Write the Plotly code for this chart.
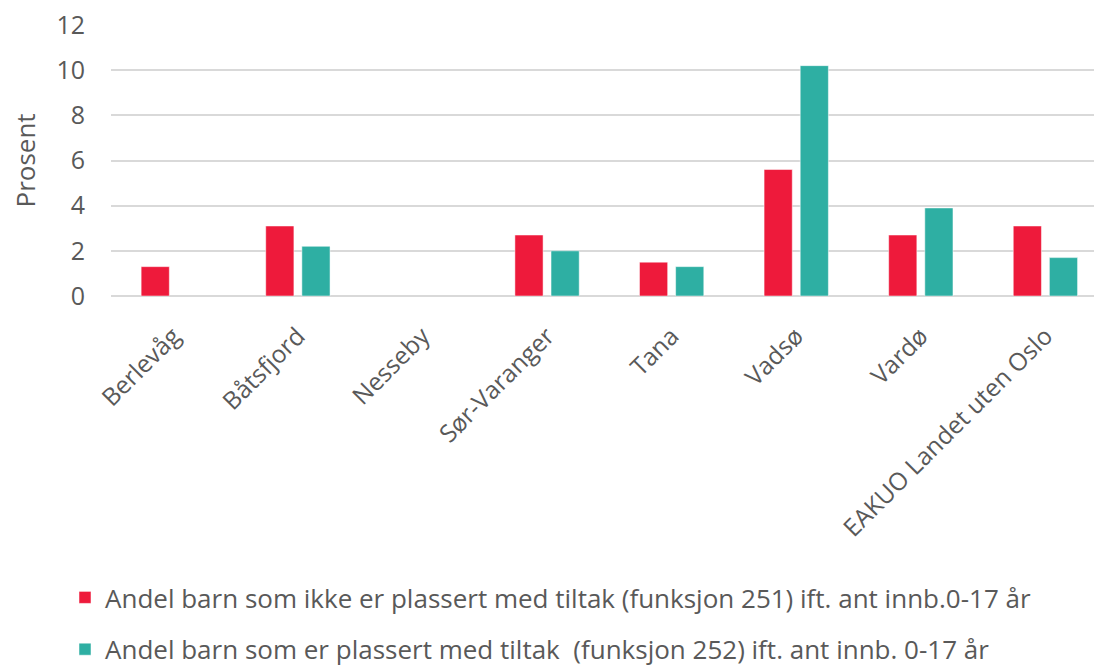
import plotly.graph_objects as go

categories = ["Berlevåg", "Båtsfjord", "Nesseby", "Sør-Varanger", "Tana", "Vadsø", "Vardø", "EAKUO Landet uten Oslo"]
ikke_plassert = [1.3, 3.1, None, 2.7, 1.5, 5.6, 2.7, 3.1]
plassert = [None, 2.2, None, 2.0, 1.3, 10.2, 3.9, 1.7]
name_251 = "Andel barn som ikke er plassert med tiltak (funksjon 251) ift. ant innb.0-17 år"
name_252 = "Andel barn som er plassert med tiltak  (funksjon 252) ift. ant innb. 0-17 år"
y_ticks = [0, 2, 4, 6, 8, 10, 12]
y_title = "Prosent"

RED = "#EE1A3B"
TEAL = "#2EAFA3"
GREY = "#595959"

fig = go.Figure()
fig.add_trace(go.Bar(x=categories, y=ikke_plassert, name=name_251, marker_color=RED,
                     marker_line=dict(color="white", width=0.5), legendgroup="a"))
fig.add_trace(go.Bar(x=categories, y=plassert, name=name_252, marker_color=TEAL,
                     marker_line=dict(color="white", width=0.5), legendgroup="b"))

fig.add_annotation(text=y_title, textangle=-90, xref="paper", yref="paper",
                   x=(24 - 111) / 983, y=0.5, xanchor="center", yanchor="middle",
                   showarrow=False, font=dict(size=26, color=GREY, family="Open Sans, sans-serif"))

fig.update_layout(
    width=1094, height=668,
    margin=dict(l=111, r=0, t=25, b=372, autoexpand=False),
    paper_bgcolor="white", plot_bgcolor="white",
    barmode="group", bargap=0.42, bargroupgap=0.22,
    font=dict(family="Open Sans, sans-serif", color=GREY),
    showlegend=True,
    legend=dict(orientation="v", x=65 / 1094, xanchor="left", xref="container",
                y=1 - 574 / 668, yanchor="top", yref="container",
                traceorder="grouped", tracegroupgap=15,
                font=dict(family="Open Sans, sans-serif", size=26, color=GREY),
                itemwidth=30),
    xaxis=dict(range=[-0.5, 7.39], tickangle=-45, tickfont=dict(size=24.5, color=GREY),
               showline=False, showgrid=False, ticks="", ticklabelstandoff=20),
    yaxis=dict(range=[0, 12], tickvals=y_ticks, tickfont=dict(size=25, color=GREY),
               gridcolor="#D9D9D9", gridwidth=1.5, zeroline=True, zerolinecolor="#D9D9D9",
               zerolinewidth=1.5, ticks="", ticklabelstandoff=25),
)

fig.write_html(
    "out.html",
    config={"displayModeBar": False},
    post_script="document.body.style.margin='0';document.body.style.overflow='hidden';",
)
